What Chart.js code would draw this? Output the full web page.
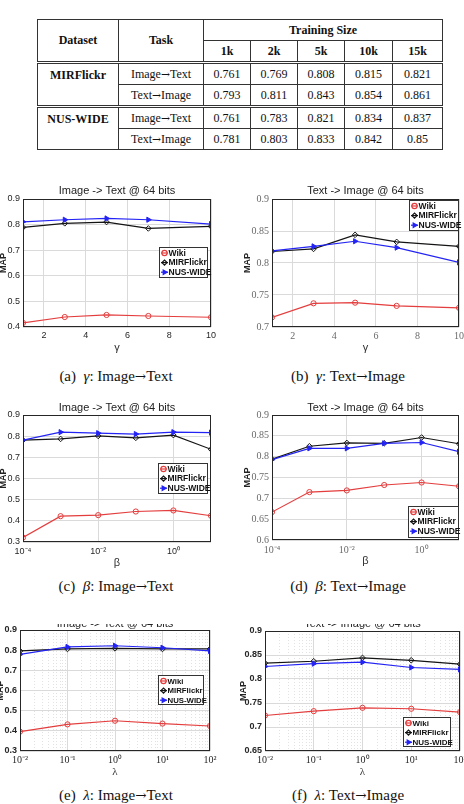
<!DOCTYPE html>
<html>
<head>
<meta charset="utf-8">
<script src="https://cdn.jsdelivr.net/npm/chart.js@4.4.0/dist/chart.umd.min.js"></script>
<style>
body { margin: 0; background: #fff; }
#page { position: relative; width: 464px; height: 804px; overflow: hidden; }
table.res { position: absolute; left: 37px; top: 19px; width: 405px; border-collapse: collapse;
  font-family: 'Liberation Serif', serif; font-size: 12px; color: #111; table-layout: fixed; }
table.res td, table.res th { border: 1px solid #333; text-align: center; padding: 0; height: 20px; }
table.res th { font-weight: bold; }
table.res tbody { border-top: 3px double #333; }
table.res td.ds { font-weight: bold; vertical-align: top; padding-top: 4px; }
.ar { font-family: 'DejaVu Serif', serif; font-size: 0.9em; }
.cap { position: absolute; width: 232px; text-align: center; font-family: 'Liberation Serif', serif;
  font-size: 15px; color: #111; }
</style>
</head>
<body>
<div id="page">
  <table class="res" id="res">
    <colgroup>
      <col style="width:81px"><col style="width:85px"><col style="width:47px"><col style="width:47px">
      <col style="width:47px"><col style="width:48px"><col style="width:50px">
    </colgroup>
    <thead>
      <tr><th rowspan="2">Dataset</th><th rowspan="2">Task</th><th colspan="5">Training Size</th></tr>
      <tr id="sizeRow"></tr>
    </thead>
  </table>
  <div class="cap" style="left:0;top:368px">(a)&nbsp; <i>γ</i>: Image<span class="ar">→</span>Text</div>
  <div class="cap" style="left:232px;top:368px">(b)&nbsp; <i>γ</i>: Text<span class="ar">→</span>Image</div>
  <div class="cap" style="left:0;top:578px">(c)&nbsp; <i>β</i>: Image<span class="ar">→</span>Text</div>
  <div class="cap" style="left:232px;top:578px">(d)&nbsp; <i>β</i>: Text<span class="ar">→</span>Image</div>
  <div class="cap" style="left:0;top:787px">(e)&nbsp; <i>λ</i>: Image<span class="ar">→</span>Text</div>
  <div class="cap" style="left:232px;top:787px">(f)&nbsp; <i>λ</i>: Text<span class="ar">→</span>Image</div>
</div>
<script>
// Table data
const trainingSizes = ['1k', '2k', '5k', '10k', '15k'];
const mirI2T = ['0.761', '0.769', '0.808', '0.815', '0.821'];
const mirT2I = ['0.793', '0.811', '0.843', '0.854', '0.861'];
const nusI2T = ['0.761', '0.783', '0.821', '0.834', '0.837'];
const nusT2I = ['0.781', '0.803', '0.833', '0.842', '0.85'];

// Parameter values on the x axes
const gammaVals = [1, 3, 5, 7, 10];
const betaVals = [1e-4, 1e-3, 1e-2, 1e-1, 1, 10];
const lambdaVals = [1e-2, 1e-1, 1, 10, 100];

// (a) gamma: Image -> Text
const gammaI2T_wiki = [0.416, 0.439, 0.447, 0.443, 0.438];
const gammaI2T_mir = [0.789, 0.805, 0.810, 0.785, 0.793];
const gammaI2T_nus = [0.811, 0.819, 0.824, 0.819, 0.802];
// (b) gamma: Text -> Image
const gammaT2I_wiki = [0.715, 0.737, 0.738, 0.733, 0.730];
const gammaT2I_mir = [0.818, 0.822, 0.844, 0.833, 0.826];
const gammaT2I_nus = [0.819, 0.826, 0.834, 0.824, 0.801];
// (c) beta: Image -> Text
const betaI2T_wiki = [0.321, 0.422, 0.427, 0.444, 0.449, 0.424];
const betaI2T_mir = [0.781, 0.787, 0.801, 0.792, 0.805, 0.738];
const betaI2T_nus = [0.781, 0.819, 0.814, 0.810, 0.819, 0.817];
// (d) beta: Text -> Image
const betaT2I_wiki = [0.667, 0.715, 0.719, 0.732, 0.738, 0.729];
const betaT2I_mir = [0.794, 0.825, 0.833, 0.832, 0.846, 0.831];
const betaT2I_nus = [0.793, 0.820, 0.820, 0.832, 0.834, 0.812];
// (e) lambda: Image -> Text
const lambdaI2T_wiki = [0.396, 0.432, 0.450, 0.436, 0.424];
const lambdaI2T_mir = [0.796, 0.806, 0.809, 0.806, 0.806];
const lambdaI2T_nus = [0.779, 0.816, 0.822, 0.812, 0.796];
// (f) lambda: Text -> Image
const lambdaT2I_wiki = [0.724, 0.733, 0.740, 0.738, 0.731];
const lambdaT2I_mir = [0.833, 0.837, 0.844, 0.839, 0.831];
const lambdaT2I_nus = [0.826, 0.832, 0.835, 0.824, 0.820];

// Tick values and labels
const gammaTicks = [2, 4, 6, 8, 10];
const betaTicks = [1e-4, 1e-2, 1];
const betaTickLabels = ['10⁻⁴', '10⁻²', '10⁰'];
const lambdaTicks = [1e-2, 1e-1, 1, 10, 100];
const lambdaTickLabels = ['10⁻²', '10⁻¹', '10⁰', '10¹', '10²'];
const mapTicks_a = [0.4, 0.5, 0.6, 0.7, 0.8, 0.9];
const mapTicks_b = [0.7, 0.75, 0.8, 0.85, 0.9];
const mapTicks_c = [0.3, 0.4, 0.5, 0.6, 0.7, 0.8, 0.9];
const mapTicks_d = [0.6, 0.65, 0.7, 0.75, 0.8, 0.85, 0.9];
const mapTicks_e = [0.3, 0.4, 0.5, 0.6, 0.7, 0.8, 0.9];
const mapTicks_f = [0.65, 0.7, 0.75, 0.8, 0.85, 0.9];

const SANS = "'Liberation Sans', Arial, sans-serif";
const SERIF = "'Liberation Serif', 'Times New Roman', serif";

// Build the table body
function buildTable() {
    const sizeRow = document.getElementById('sizeRow');
    trainingSizes.forEach(s => {
        const th = document.createElement('th');
        th.textContent = s;
        sizeRow.appendChild(th);
    });
    const table = document.getElementById('res');
    const i2t = 'Image<span class="ar">→</span>Text';
    const t2i = 'Text<span class="ar">→</span>Image';
    [['MIRFlickr', mirI2T, mirT2I], ['NUS-WIDE', nusI2T, nusT2I]].forEach(([name, a, b]) => {
        const tb = document.createElement('tbody');
        tb.innerHTML = `<tr><td class="ds" rowspan="2">${name}</td><td>${i2t}</td>${a.map(v => `<td>${v}</td>`).join('')}</tr>` +
            `<tr><td>${t2i}</td>${b.map(v => `<td>${v}</td>`).join('')}</tr>`;
        table.appendChild(tb);
    });
}

// Minor ticks for the log grids in (e) and (f)
function logMinors(fromExp, toExp) {
    const out = [];
    for (let e = fromExp; e < toExp; e++) {
        for (let k = 2; k <= 9; k++) out.push(k * Math.pow(10, e));
    }
    return out;
}

// Draws the MATLAB style box around the axes
const axesBox = {
    id: 'axesBox',
    afterDatasetsDraw(chart) {
        const ca = chart.chartArea;
        const ctx = chart.ctx;
        ctx.save();
        ctx.strokeStyle = '#262626';
        ctx.lineWidth = 1;
        ctx.strokeRect(Math.round(ca.left) + 0.5, Math.round(ca.top) + 0.5,
            Math.round(ca.right - ca.left) - 1, Math.round(ca.bottom - ca.top) - 1);
        ctx.restore();
    }
};

// Title above the axes
const topTitle = {
    id: 'topTitle',
    afterDraw(chart, args, o) {
        const ca = chart.chartArea;
        const ctx = chart.ctx;
        ctx.save();
        ctx.font = '11px ' + SANS;
        ctx.fillStyle = '#222';
        ctx.textAlign = 'center';
        ctx.textBaseline = 'middle';
        ctx.fillText(o.text, (ca.left + ca.right) / 2, o.y);
        ctx.restore();
    }
};

// Legend box inside the axes
const boxLegend = {
    id: 'boxLegend',
    afterDraw(chart, args, o) {
        const ca = chart.chartArea;
        const ctx = chart.ctx;
        const x = Math.round(o.right ? ca.right - o.dx - o.w : ca.left + o.dx);
        const y = Math.round(o.bottom ? ca.bottom - o.dy - o.h : ca.top + o.dy);
        ctx.save();
        ctx.fillStyle = '#fff';
        ctx.fillRect(x, y, o.w, o.h);
        ctx.strokeStyle = '#333';
        ctx.lineWidth = 1;
        ctx.strokeRect(x + 0.5, y + 0.5, o.w - 1, o.h - 1);
        chart.data.datasets.forEach((ds, i) => {
            const cy = y + 6 + i * 9.6;
            ctx.strokeStyle = ds.borderColor;
            ctx.lineWidth = 1.2;
            ctx.beginPath();
            ctx.moveTo(x + 2, cy);
            ctx.lineTo(x + 9, cy);
            ctx.stroke();
            ctx.fillStyle = ds.pointBackgroundColor;
            Chart.helpers.drawPoint(ctx, {
                pointStyle: ds.pointStyle, rotation: ds.pointRotation || 0,
                radius: 2.6, borderWidth: 1
            }, x + 5.5, cy);
            ctx.fillStyle = '#111';
            ctx.font = 'bold ' + (o.fontSize || 8.5) + 'px ' + SANS;
            ctx.textAlign = 'left';
            ctx.textBaseline = 'middle';
            ctx.fillText(ds.label, x + 9.5, cy + 0.5);
        });
        ctx.restore();
    }
};

function series(xs, ys) {
    return xs.map((x, i) => ({ x: x, y: ys[i] }));
}

function makeDatasets(xs, wiki, mir, nus) {
    return [{
        label: 'Wiki', data: series(xs, wiki), order: 2,
        borderColor: '#e43d3d', pointBorderColor: '#e43d3d', pointBackgroundColor: 'rgba(0,0,0,0)',
        pointStyle: 'circle', pointRadius: 2.6
    }, {
        label: 'MIRFlickr', data: series(xs, mir), order: 1,
        borderColor: '#141414', pointBorderColor: '#141414', pointBackgroundColor: 'rgba(0,0,0,0)',
        pointStyle: 'rectRot', pointRadius: 2.8
    }, {
        label: 'NUS-WIDE', data: series(xs, nus), order: 0,
        borderColor: '#2323f5', pointBorderColor: '#2323f5', pointBackgroundColor: '#2323f5',
        pointStyle: 'triangle', pointRotation: 90, pointRadius: 3
    }];
}

function drawPanel(p) {
    const cv = document.createElement('canvas');
    cv.width = p.w;
    cv.height = p.h;
    cv.style.cssText = `position:absolute;left:${p.left}px;top:${p.top}px;width:${p.w}px;height:${p.h}px`;
    document.getElementById('page').appendChild(cv);

    const xAll = p.xMinor ? p.xTicks.concat(p.xMinor) : p.xTicks;
    const isMajor = v => p.xTicks.some(t => Math.abs(t - v) < t * 1e-6);

    return new Chart(cv, {
        type: 'line',
        data: { datasets: p.datasets },
        options: {
            responsive: false,
            animation: false,
            devicePixelRatio: 1,
            layout: { padding: p.pad },
            elements: {
                line: { borderWidth: 1.2, tension: 0 },
                point: { borderWidth: 1, hoverRadius: 3 }
            },
            plugins: {
                legend: { display: false },
                tooltip: { enabled: false },
                topTitle: { text: p.title, y: p.titleY },
                boxLegend: p.legend
            },
            scales: {
                x: {
                    type: p.xType,
                    min: p.xMin,
                    max: p.xMax,
                    afterBuildTicks: s => { s.ticks = xAll.map(v => ({ value: v })); },
                    afterFit: s => { s.height = 28; s.paddingLeft = 0; s.paddingRight = 0; },
                    grid: {
                        drawTicks: false,
                        color: ctx => (ctx.tick && !isMajor(ctx.tick.value)) ? '#e2e2e2' : '#dadada'
                    },
                    border: {
                        display: false,
                        dash: ctx => (ctx.tick && !isMajor(ctx.tick.value)) ? [1, 2] : []
                    },
                    ticks: {
                        autoSkip: false, maxRotation: 0, padding: p.xPad,
                        color: p.xTickColor, font: p.xTickFont,
                        callback: v => {
                            const i = p.xTicks.findIndex(t => Math.abs(t - v) < t * 1e-6);
                            return i < 0 ? '' : p.xLabels[i];
                        }
                    },
                    title: {
                        display: true, text: p.xTitle, color: '#333',
                        font: p.xTitleFont, padding: { top: 0, bottom: 0 }
                    }
                },
                y: {
                    min: p.yTicks[0],
                    max: p.yTicks[p.yTicks.length - 1],
                    afterBuildTicks: s => { s.ticks = p.yTicks.map(v => ({ value: v })); },
                    afterFit: s => { s.width = p.yWidth; s.paddingTop = 0; s.paddingBottom = 0; },
                    grid: { drawTicks: false, color: '#dadada' },
                    border: { display: false },
                    ticks: {
                        padding: 3, color: p.yTickColor, font: p.yTickFont,
                        callback: v => String(v)
                    },
                    title: {
                        display: true, text: 'MAP', color: '#222',
                        font: { family: SANS, size: 9, weight: 'bold', lineHeight: 0.8 },
                        padding: { top: p.mapPad, bottom: 0 }
                    }
                }
            }
        },
        plugins: [axesBox, topTitle, boxLegend]
    });
}

function initFigure() {
    buildTable();

    const sansTick = { family: SANS, size: 9 };
    const sansBoldTick = { family: SANS, size: 9, weight: 'bold' };
    const serifTick = { family: SERIF, size: 10 };
    const sansLabel = { family: SANS, size: 11 };
    const serifLabel = { family: SERIF, size: 11 };

    // (a)
    drawPanel({
        left: 0, top: 180, w: 232, h: 180, pad: { left: 0, right: 21, top: 19, bottom: 5 },
        yWidth: 23, mapPad: 0, title: 'Image -> Text @ 64 bits', titleY: 11,
        datasets: makeDatasets(gammaVals, gammaI2T_wiki, gammaI2T_mir, gammaI2T_nus),
        xType: 'linear', xMin: 1, xMax: 10, xTicks: gammaTicks, xLabels: gammaTicks.map(String),
        xPad: 3, xTickColor: '#262626', xTickFont: sansTick, xTitle: 'γ', xTitleFont: sansLabel,
        yTicks: mapTicks_a, yTickColor: '#262626', yTickFont: sansTick,
        legend: { right: true, dx: 3, dy: 48, w: 49, h: 31 }
    });
    // (b)
    drawPanel({
        left: 232, top: 180, w: 232, h: 180, pad: { left: 0, right: 5, top: 19, bottom: 5 },
        yWidth: 40, mapPad: 12, title: 'Text -> Image @ 64 bits', titleY: 11,
        datasets: makeDatasets(gammaVals, gammaT2I_wiki, gammaT2I_mir, gammaT2I_nus),
        xType: 'linear', xMin: 1, xMax: 10, xTicks: gammaTicks, xLabels: gammaTicks.map(String),
        xPad: 3, xTickColor: '#6a6a6a', xTickFont: serifTick, xTitle: 'γ', xTitleFont: sansLabel,
        yTicks: mapTicks_b, yTickColor: '#6a6a6a', yTickFont: serifTick,
        legend: { right: true, dx: 0, dy: 1, w: 50, h: 31 }
    });
    // (c)
    drawPanel({
        left: 0, top: 395, w: 232, h: 180, pad: { left: 0, right: 21, top: 20, bottom: 5 },
        yWidth: 23, mapPad: 0, title: 'Image -> Text @ 64 bits', titleY: 13,
        datasets: makeDatasets(betaVals, betaI2T_wiki, betaI2T_mir, betaI2T_nus),
        xType: 'logarithmic', xMin: 1e-4, xMax: 10, xTicks: betaTicks, xLabels: betaTickLabels,
        xPad: 4, xTickColor: '#262626', xTickFont: sansTick, xTitle: 'β', xTitleFont: sansLabel,
        yTicks: mapTicks_c, yTickColor: '#262626', yTickFont: sansTick,
        legend: { right: true, dx: 3, dy: 48, w: 50, h: 31 }
    });
    // (d)
    drawPanel({
        left: 232, top: 395, w: 232, h: 180, pad: { left: 0, right: 5, top: 20, bottom: 7 },
        yWidth: 40, mapPad: 12, title: 'Text -> Image @ 64 bits', titleY: 13,
        datasets: makeDatasets(betaVals, betaT2I_wiki, betaT2I_mir, betaT2I_nus),
        xType: 'logarithmic', xMin: 1e-4, xMax: 10, xTicks: betaTicks, xLabels: betaTickLabels,
        xPad: 4, xTickColor: '#6a6a6a', xTickFont: serifTick, xTitle: 'β', xTitleFont: sansLabel,
        yTicks: mapTicks_d, yTickColor: '#6a6a6a', yTickFont: serifTick,
        legend: { right: true, bottom: true, dx: 0, dy: 2, w: 51, h: 32 }
    });
    // (e)
    drawPanel({
        left: -4, top: 624, w: 236, h: 156, pad: { left: 0, right: 22, top: 6, bottom: 1 },
        yWidth: 24, mapPad: 1, title: 'Image -> Text @ 64 bits', titleY: 0,
        datasets: makeDatasets(lambdaVals, lambdaI2T_wiki, lambdaI2T_mir, lambdaI2T_nus),
        xType: 'logarithmic', xMin: 1e-2, xMax: 100, xTicks: lambdaTicks, xLabels: lambdaTickLabels,
        xMinor: logMinors(-2, 2),
        xPad: 3, xTickColor: '#262626', xTickFont: serifTick, xTitle: 'λ', xTitleFont: serifLabel,
        yTicks: mapTicks_e, yTickColor: '#262626', yTickFont: sansBoldTick,
        legend: { right: true, dx: 6, dy: 45, w: 46, h: 30, fontSize: 7.8 }
    });
    // (f)
    drawPanel({
        left: 232, top: 624, w: 232, h: 156, pad: { left: 0, right: 2, top: 7, bottom: 1 },
        yWidth: 33, mapPad: 8, title: 'Text -> Image @ 64 bits', titleY: 0,
        datasets: makeDatasets(lambdaVals, lambdaT2I_wiki, lambdaT2I_mir, lambdaT2I_nus),
        xType: 'logarithmic', xMin: 1e-2, xMax: 100, xTicks: lambdaTicks, xLabels: lambdaTickLabels,
        xMinor: logMinors(-2, 2),
        xPad: 3, xTickColor: '#262626', xTickFont: serifTick, xTitle: 'λ', xTitleFont: serifLabel,
        yTicks: mapTicks_f, yTickColor: '#262626', yTickFont: sansBoldTick,
        legend: { right: true, bottom: true, dx: 9, dy: 4, w: 48, h: 30, fontSize: 8 }
    });
}

document.addEventListener('DOMContentLoaded', initFigure);
</script>
</body>
</html>
